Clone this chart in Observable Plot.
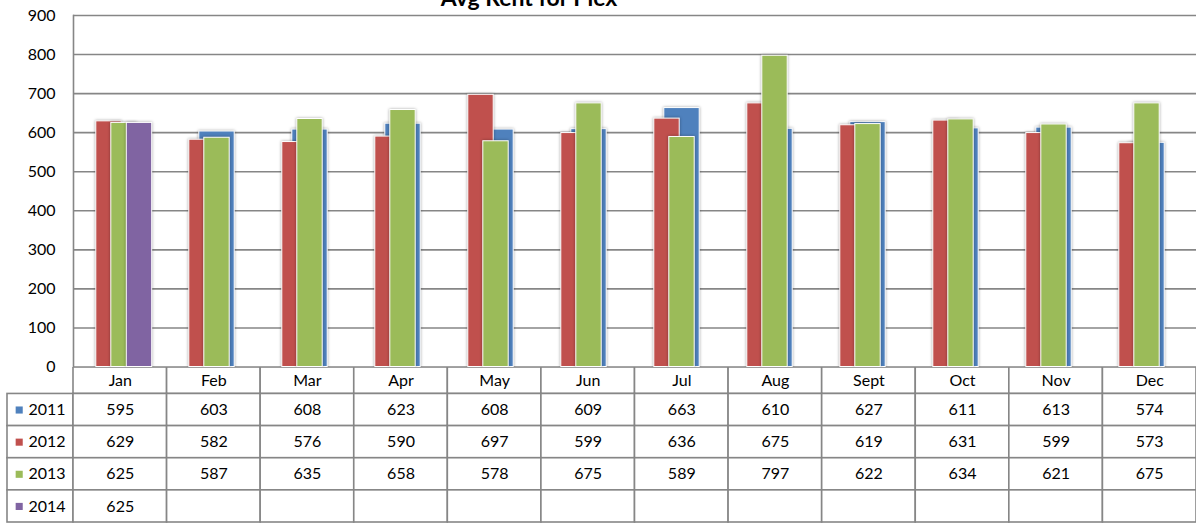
<!DOCTYPE html>
<html><head><meta charset="utf-8">
<script src="https://cdn.jsdelivr.net/npm/d3@7"></script>
<script src="https://cdn.jsdelivr.net/npm/@observablehq/plot@0.6"></script>
<style>
html,body{margin:0;padding:0;background:#fff;overflow:hidden;}
#wrap{position:relative;width:1196px;height:523px;}
#title{position:absolute;left:0;width:1058px;top:-17px;text-align:center;font-family:Lato;font-weight:bold;font-size:23px;color:#000;z-index:2;}
svg{display:block;}
#chart svg{overflow:visible;}
</style></head><body>
<div id="wrap"><div id="title">Avg Rent for Plex</div><div id="chart"></div><div id="table"></div></div>
<script>
const months = ["Jan","Feb","Mar","Apr","May","Jun","Jul","Aug","Sept","Oct","Nov","Dec"];
const years = ["2011","2012","2013","2014"];
const v2011 = [595,603,608,623,608,609,663,610,627,611,613,574];
const v2012 = [629,582,576,590,697,599,636,675,619,631,599,573];
const v2013 = [625,587,635,658,578,675,589,797,622,634,621,675];
const v2014 = [625];
const yTicks = [0,100,200,300,400,500,600,700,800,900];
const colors = {"2011":"#4F81BD","2012":"#C0504D","2013":"#9BBB59","2014":"#8064A2"};

const seriesValues = {"2011":v2011,"2012":v2012,"2013":v2013,"2014":v2014};
const grid = "#868686";
const W = 1196, LEFT = 73;
const bw = (W - LEFT) / 12, half = bw / 2;
// bar spans relative to the category centre (px): [left, right]
const spans = {"2011":[-18,18],"2012":[-28,-2],"2013":[-13,13],"2014":[2.5,28.5]};
const drawOrder = ["2011","2012","2013","2014"];

const rows = y => seriesValues[y].map((v,i)=>({month:months[i], value:v, year:y}));

const chart = Plot.plot({
  width: W, height: 367,
  marginLeft: LEFT, marginRight: 0, marginTop: 15, marginBottom: 0.5,
  style: {fontFamily: "Lato", fontSize: "16px", color: "#000", background: "transparent"},
  x: {type: "band", domain: months, padding: 0, axis: null},
  y: {domain: [0, 900], axis: null},
  marks: [
    Plot.ruleY(yTicks, {stroke: grid, strokeWidth: 1.6, strokeOpacity: 1}),
    Plot.frame({anchor: "left", stroke: grid, strokeWidth: 1.6, strokeOpacity: 1}),
    Plot.axisY({ticks: yTicks, tickSize: 0, tickPadding: 18, fontSize: 16, fill: "#000", label: null}),
    ...drawOrder.map(y => Plot.barY(rows(y), {
      x: "month", y: "value", fill: colors[y], stroke: "white", strokeWidth: 1,
      insetLeft: half + spans[y][0], insetRight: half - spans[y][1]
    }))
  ]
});
chart.querySelectorAll('g[aria-label="bar"]').forEach(g => {
  g.style.filter = "drop-shadow(0.5px 0.5px 1.5px rgba(0,0,0,0.35))";
});
document.getElementById("chart").appendChild(chart);

// data table
const L = 66 / bw;          // legend column width in column units
const H = 26.5 / 32.2;      // header row height in row units
const headerCells = months.map((m,i)=>({i, text:m}));
const bodyCells = [];
years.forEach((y,r) => {
  bodyCells.push({x1:-L, x2:0, r});
  months.forEach((m,i) => bodyCells.push({x1:i, x2:i+1, r}));
});
const bodyText = [];
years.forEach((y,r) => seriesValues[y].forEach((v,i) => bodyText.push({i, r, text:String(v)})));
const legend = years.map((y,r)=>({y, r}));

const table = Plot.plot({
  width: W, height: 156,
  marginLeft: 7, marginRight: 0, marginTop: 0, marginBottom: 1,
  style: {fontFamily: "Lato", fontSize: "16px", color: "#000", background: "transparent"},
  x: {domain: [-L, 12], axis: null},
  y: {domain: [-H, 4], reverse: true, axis: null},
  marks: [
    Plot.rect(headerCells, {x1: d=>d.i, x2: d=>d.i+1, y1: -H, y2: 0, fill: "white", stroke: grid, strokeWidth: 1.6}),
    Plot.rect(bodyCells, {x1: "x1", x2: "x2", y1: d=>d.r, y2: d=>d.r+1, fill: "white", stroke: grid, strokeWidth: 1.6}),
    Plot.text(headerCells, {x: d=>d.i+0.5, y: -H/2, text: "text", fill: "#000", fontSize: 16}),
    Plot.text(bodyText, {x: d=>d.i+0.5, y: d=>d.r+0.5, text: "text", fill: "#000", fontSize: 16}),
    Plot.dot(legend, {x: -L, y: d=>d.r+0.5, dx: 11.7, symbol: "square", r: 4, fill: d=>colors[d.y], stroke: "none"}),
    Plot.text(legend, {x: -L, y: d=>d.r+0.5, dx: 21, text: "y", textAnchor: "start", fill: "#000", fontSize: 16})
  ]
});
document.getElementById("table").appendChild(table);
</script>
</body></html>
